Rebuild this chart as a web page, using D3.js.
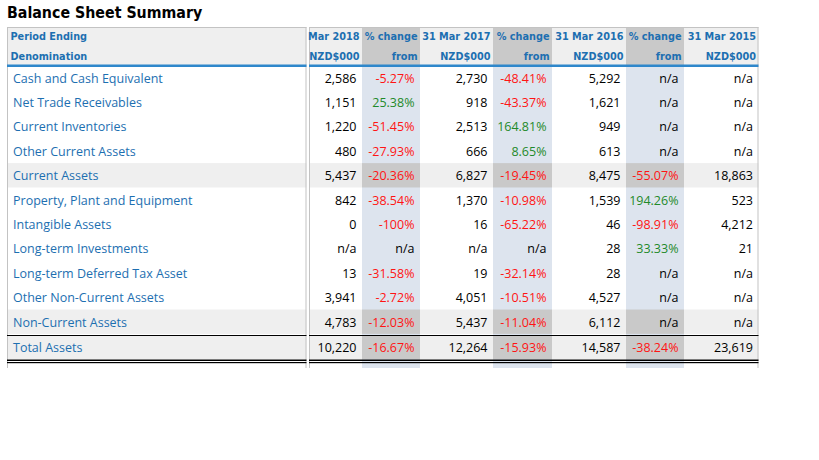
<!DOCTYPE html>
<html><head><meta charset="utf-8">
<script src="https://cdn.jsdelivr.net/npm/d3@7"></script>
<style>body{margin:0;background:#fff}</style>
</head><body>
<svg id="c" width="819" height="460"></svg>
<script>
const title = "Balance Sheet Summary";
const labels = ["Cash and Cash Equivalent","Net Trade Receivables","Current Inventories","Other Current Assets","Current Assets","Property, Plant and Equipment","Intangible Assets","Long-term Investments","Long-term Deferred Tax Asset","Other Non-Current Assets","Non-Current Assets","Total Assets"];
const subtotalRows = ["Current Assets","Non-Current Assets","Total Assets"];
const headTop = ["Mar 2018","% change","31 Mar 2017","% change","31 Mar 2016","% change","31 Mar 2015"];
const headBottom = ["NZD$000","from","NZD$000","from","NZD$000","from","NZD$000"];
const v2018 = [2586,1151,1220,480,5437,842,0,null,13,3941,4783,10220];
const p2018 = [-5.27,25.38,-51.45,-27.93,-20.36,-38.54,-100,null,-31.58,-2.72,-12.03,-16.67];
const v2017 = [2730,918,2513,666,6827,1370,16,null,19,4051,5437,12264];
const p2017 = [-48.41,-43.37,164.81,8.65,-19.45,-10.98,-65.22,null,-32.14,-10.51,-11.04,-15.93];
const v2016 = [5292,1621,949,613,8475,1539,46,28,28,4527,6112,14587];
const p2016 = [null,null,null,null,-55.07,194.26,-98.91,33.33,null,null,null,-38.24];
const v2015 = [null,null,null,null,18863,523,4212,21,null,null,null,23619];

const columns = [
  {vals:v2018, pct:false},{vals:p2018, pct:true},
  {vals:v2017, pct:false},{vals:p2017, pct:true},
  {vals:v2016, pct:false},{vals:p2016, pct:true},
  {vals:v2015, pct:false}
];

const svg = d3.select("#c");
const BLUE = "#1d6fb1", RED = "#ff1414", GREEN = "#1f8a2a";
const LIGHT = "#efefef", DARK = "#c9c9c9", PALE = "#dde4ee", BORDER = "#c3c3c3";
const bodyFont = "'Open Sans', 'Noto Sans', sans-serif";
const headFont = "'DejaVu Sans Condensed', 'DejaVu Sans', Verdana, sans-serif";

const edges = [309,362,420,493,552,626,684,758.5];
const xCol = d3.scaleOrdinal().domain(d3.range(7)).range(d3.range(7).map(i=>edges[i]));
const wCol = i => edges[i+1]-edges[i];

const leftX0 = 7, leftX1 = 306.5;
const topY = 28, headBot = 65, bottomY = 368;
const y = d3.scaleBand().domain(d3.range(labels.length)).range([66, 66 + labels.length*24.4]);

const fmtN = d3.format(",");
const fmtP = v => (Number.isInteger(v) ? String(v) : v.toFixed(2)) + "%";

// title
svg.append("text").attr("x",7).attr("y",18).text(title)
  .attr("font-family",headFont).attr("font-weight","bold").attr("font-size",15.8).attr("fill","#000");

// header backgrounds
svg.append("rect").attr("x",leftX0).attr("y",topY).attr("width",leftX1-leftX0).attr("height",headBot-topY).attr("fill",LIGHT);
columns.forEach((c,i)=>{
  svg.append("rect").attr("x",xCol(i)).attr("y",topY).attr("width",wCol(i)).attr("height",headBot-topY).attr("fill",c.pct?DARK:LIGHT);
  if(c.pct) svg.append("rect").attr("x",xCol(i)).attr("y",headBot).attr("width",wCol(i)).attr("height",bottomY-headBot).attr("fill",PALE);
});

// subtotal row bands
labels.forEach((l,r)=>{
  if(!subtotalRows.includes(l)) return;
  const isTotal = r===labels.length-1;
  const y0 = isTotal ? 336 : y(r)-0.5, h = isTotal ? 23.5 : 24.4;
  svg.append("rect").attr("x",leftX0).attr("y",y0).attr("width",leftX1-leftX0).attr("height",h).attr("fill",LIGHT);
  columns.forEach((c,i)=>{
    svg.append("rect").attr("x",xCol(i)).attr("y",y0).attr("width",wCol(i)).attr("height",h).attr("fill",c.pct?DARK:LIGHT);
  });
});

// borders
const g = svg.append("g");
[[leftX0,leftX1],[edges[0],edges[7]]].forEach(([a,b])=>{
  g.append("line").attr("x1",a).attr("x2",b).attr("y1",topY-0.5).attr("y2",topY-0.5).attr("stroke",BORDER);
  g.append("line").attr("x1",a+0.5).attr("x2",a+0.5).attr("y1",topY-1).attr("y2",bottomY).attr("stroke",BORDER);
  g.append("line").attr("x1",b-0.5).attr("x2",b-0.5).attr("y1",topY-1).attr("y2",bottomY).attr("stroke",BORDER);
  g.append("rect").attr("x",a).attr("y",headBot-0.5).attr("width",b-a).attr("height",2.5).attr("fill","#2e87cb");
  g.append("line").attr("x1",a).attr("x2",b).attr("y1",335.5).attr("y2",335.5).attr("stroke","#000");
  g.append("rect").attr("x",a).attr("y",359.5).attr("width",b-a).attr("height",1.5).attr("fill","#000");
  g.append("rect").attr("x",a).attr("y",362).attr("width",b-a).attr("height",1.2).attr("fill","#000");
});

// header text
const HS = 10.8;
svg.append("text").attr("x",10.5).attr("y",40).text("Period Ending")
  .attr("font-family",headFont).attr("font-weight","bold").attr("font-size",HS).attr("fill",BLUE);
svg.append("text").attr("x",10.5).attr("y",59.5).text("Denomination")
  .attr("font-family",headFont).attr("font-weight","bold").attr("font-size",HS).attr("fill",BLUE);
columns.forEach((c,i)=>{
  const xr = edges[i+1]-2.5;
  svg.append("text").attr("x",xr).attr("y",40).attr("text-anchor","end").text(headTop[i])
    .attr("font-family",headFont).attr("font-weight","bold").attr("font-size",HS).attr("fill",BLUE);
  svg.append("text").attr("x",xr).attr("y",59.5).attr("text-anchor","end").text(headBottom[i])
    .attr("font-family",headFont).attr("font-weight","bold").attr("font-size",HS).attr("fill",BLUE);
});

// body
labels.forEach((l,r)=>{
  const isTotal = r===labels.length-1;
  const cy = isTotal ? 348 : y(r)+y.bandwidth()/2;
  svg.append("text").attr("x",13).attr("y",cy).attr("dy","0.35em").text(l)
    .attr("font-family",bodyFont).attr("font-size",12.5).attr("fill",BLUE);
  columns.forEach((c,i)=>{
    const v = c.vals[r];
    let txt, col = "#000";
    if(v===null){ txt="n/a"; }
    else if(c.pct){ txt=fmtP(v); col = v<0?RED:GREEN; }
    else txt=fmtN(v);
    svg.append("text").attr("x",edges[i+1]-5.5).attr("y",cy).attr("dy","0.35em").attr("text-anchor","end").text(txt)
      .attr("font-family",bodyFont).attr("font-size",12.5).attr("fill",col);
  });
});
</script>
</body></html>
